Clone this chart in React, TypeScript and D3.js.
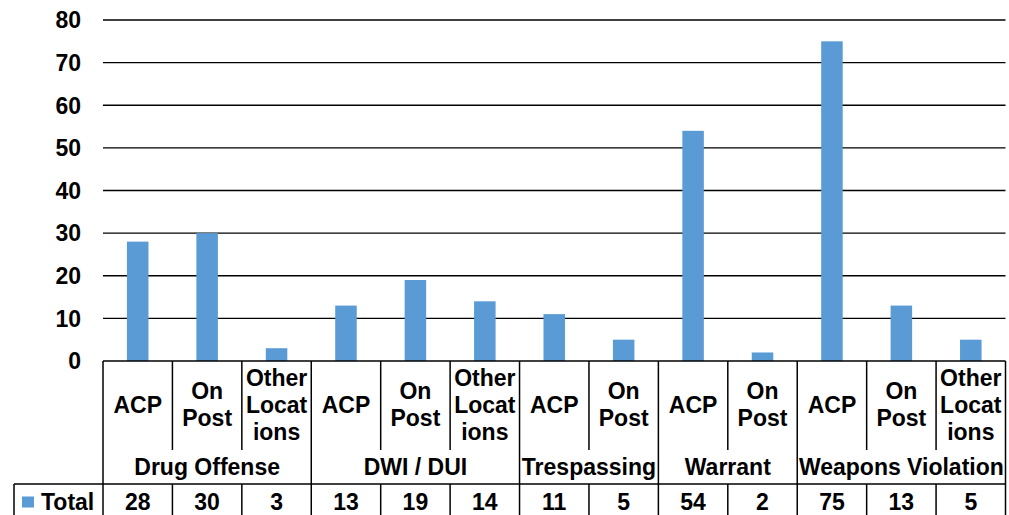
import React from "react";
import * as d3 from "d3";

// chart values
const groups = ["Drug Offense", "DWI / DUI", "Trespassing", "Warrant", "Weapons Violation"];
const groupSizes = [3, 3, 2, 2, 3];
const categories = [
  "ACP", "On Post", "Other Locations",
  "ACP", "On Post", "Other Locations",
  "ACP", "On Post",
  "ACP", "On Post",
  "ACP", "On Post", "Other Locations",
];
const totals = [28, 30, 3, 13, 19, 14, 11, 5, 54, 2, 75, 13, 5];
const seriesName = "Total";
const yTicks = [0, 10, 20, 30, 40, 50, 60, 70, 80];
// how Excel wrapped the tick labels in their narrow cells
const labelLines = {
  "ACP": ["ACP"],
  "On Post": ["On", "Post"],
  "Other Locations": ["Other", "Locat", "ions"],
};

const width = 1009;
const height = 515;
const marginLeft = 103;
const marginRight = 3.5;
const plotTop = 20;
const plotBottom = 361;
const catRowBottom = 450;
const groupRowBottom = 484;
const tableLeft = 14;
const tableBottom = 530;
const font = "'Liberation Sans', Arial, sans-serif";
const barColor = "#5B9BD5";

export default function App() {
  const idx = d3.range(categories.length);
  const x = d3.scaleBand().domain(idx).range([marginLeft, width - marginRight]).padding(0);
  const y = d3.scaleLinear().domain([0, 80]).range([plotBottom, plotTop]);
  const bw = x.bandwidth();
  const barW = bw * 0.31;

  // start index of every group
  const starts = groupSizes.map((_, i) => d3.sum(groupSizes.slice(0, i)));
  const xRight = width - marginRight;
  const lineStyle = { stroke: "#000", strokeWidth: 1.5 };

  return (
    <div style={{ position: "absolute", left: 0, top: 0 }}>
      <svg width={width} height={height} style={{ display: "block", fontFamily: font, fontWeight: "bold" }}>
        <rect width={width} height={height} fill="#fff" />

        {/* gridlines + y ticks */}
        {yTicks.map((t) => (
          <g key={t}>
            {t > 0 && <line x1={marginLeft} x2={xRight} y1={y(t)} y2={y(t)} stroke="#000" strokeWidth={1.3} />}
            <text x={81} y={y(t)} dy="0.36em" textAnchor="end" fontSize={23} fill="#000">{t}</text>
          </g>
        ))}

        {/* bars */}
        {totals.map((v, i) => (
          <rect key={i} x={x(i) + bw / 2 - barW / 2} y={y(v)} width={barW} height={y(0) - y(v)} fill={barColor} />
        ))}

        {/* data table: axis line / top border */}
        <line x1={marginLeft} x2={xRight} y1={plotBottom} y2={plotBottom} {...lineStyle} />
        <line x1={tableLeft} x2={xRight} y1={groupRowBottom} y2={groupRowBottom} {...lineStyle} />

        {/* column separators */}
        {d3.range(categories.length + 1).map((i) => {
          const xx = i < categories.length ? x(i) : xRight;
          const isGroupEdge = i === categories.length || starts.includes(i);
          return (
            <g key={"v" + i}>
              <line x1={xx} x2={xx} y1={plotBottom} y2={isGroupEdge ? groupRowBottom : catRowBottom} {...lineStyle} />
              <line x1={xx} x2={xx} y1={groupRowBottom} y2={tableBottom} {...lineStyle} />
            </g>
          );
        })}
        <line x1={tableLeft} x2={tableLeft} y1={groupRowBottom} y2={tableBottom} {...lineStyle} />

        {/* category labels */}
        {categories.map((c, i) => {
          const lines = labelLines[c];
          const lh = 27;
          const mid = (plotBottom + catRowBottom) / 2 + 7;
          const first = mid - ((lines.length - 1) * lh) / 2;
          return (
            <text key={"c" + i} x={x(i) + bw / 2} textAnchor="middle" fontSize={23} fill="#000">
              {lines.map((l, k) => (
                <tspan key={k} x={x(i) + bw / 2} y={first + k * lh}>{l}</tspan>
              ))}
            </text>
          );
        })}

        {/* group labels */}
        {groups.map((g, gi) => {
          const x0 = x(starts[gi]);
          const x1 = starts[gi] + groupSizes[gi] < categories.length ? x(starts[gi] + groupSizes[gi]) : xRight;
          return (
            <text key={"g" + gi} x={(x0 + x1) / 2} y={475} textAnchor="middle" fontSize={23} fill="#000">{g}</text>
          );
        })}

        {/* data row */}
        <rect x={22} y={496.5} width={12} height={11} fill={barColor} />
        <text x={41} y={510} fontSize={23} fill="#000">{seriesName}</text>
        {totals.map((v, i) => (
          <text key={"d" + i} x={x(i) + bw / 2} y={510} textAnchor="middle" fontSize={23} fill="#000">{v}</text>
        ))}
      </svg>
    </div>
  );
}
